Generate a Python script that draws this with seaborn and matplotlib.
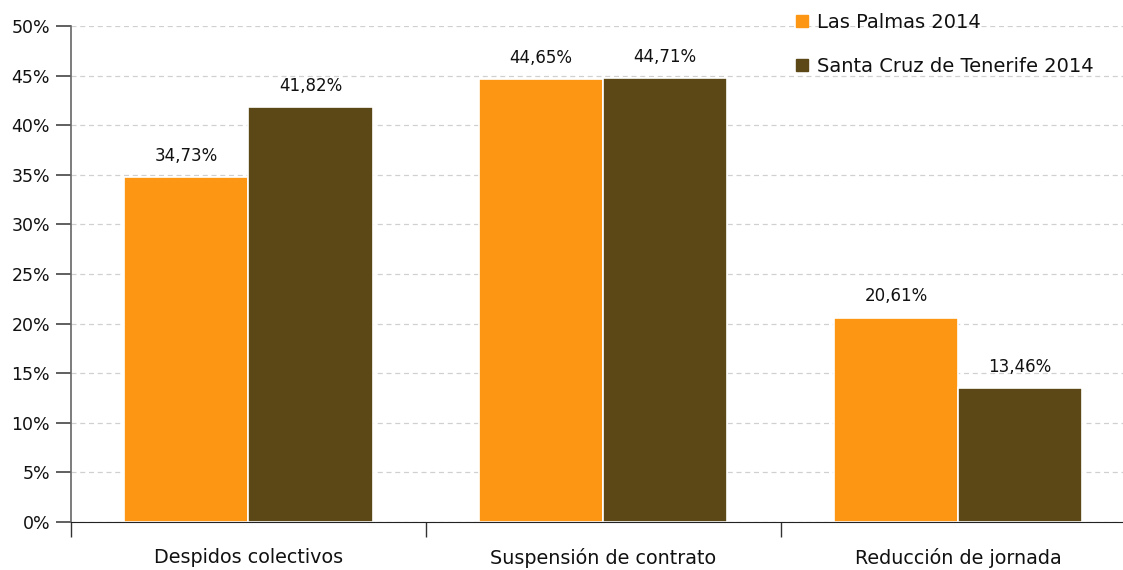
import pandas as pd
import matplotlib.pyplot as plt
import seaborn as sns
from matplotlib.lines import Line2D

# datos
categorias = ['Despidos colectivos', 'Suspensión de contrato', 'Reducción de jornada']
las_palmas = [34.73, 44.65, 20.61]
santa_cruz = [41.82, 44.71, 13.46]
series = ['Las Palmas 2014', 'Santa Cruz de Tenerife 2014']
colores = ['#FD9612', '#5C4717']

df = pd.DataFrame({
    'categoria': categorias * 2,
    'valor': las_palmas + santa_cruz,
    'serie': [series[0]] * 3 + [series[1]] * 3,
})

sns.set_style('white')
plt.rcParams['font.family'] = ['DejaVu Sans']

fig = plt.figure(figsize=(11.23, 5.70), dpi=100)
ax = fig.add_axes([71 / 1123, 1 - 522 / 570, 1 - 71 / 1123, (522 - 26) / 570])

sns.barplot(data=df, x='categoria', y='valor', hue='serie', palette=colores,
            saturation=1, width=0.7, edgecolor='white', linewidth=1.2, ax=ax, legend=False)

# etiquetas de valor
for cont in ax.containers:
    ax.bar_label(cont, labels=[f'{v:.2f}%'.replace('.', ',') for v in cont.datavalues],
                 padding=9, fontsize=12, color='#111111')

ax.set_ylim(0, 50)
ax.set_xlim(-0.5, 2.465)
ax.set_yticks(range(0, 51, 5))
ax.set_yticklabels([f'{v}%' for v in range(0, 51, 5)], fontsize=12.5, color='#111111')
ax.yaxis.grid(True, linestyle=(0, (4, 3)), color='#d0d0d0', linewidth=0.9)
ax.set_axisbelow(True)

# ticks en x en los limites de categoria
ax.set_xticks([-0.5, 0.5, 1.5])
ax.set_xticklabels([])
ax.set_xticks([0, 1, 2], minor=True)
ax.set_xticklabels(categorias, minor=True, fontsize=13.8, color='#111111')
ax.tick_params(axis='x', which='major', bottom=True, direction='out', length=11, width=1, color='#333333')
ax.tick_params(axis='x', which='minor', bottom=True, length=0, pad=19)
ax.tick_params(axis='y', left=True, direction='out', length=11, width=1.2, color='#444444', pad=4)
ax.set_xlabel('')
ax.set_ylabel('')

for s in ['top', 'right']:
    ax.spines[s].set_visible(False)
ax.spines['left'].set_color('#666666')
ax.spines['bottom'].set_color('#222222')
ax.spines['left'].set_linewidth(1.2)

handles = [Line2D([0], [0], marker='s', linestyle='', markersize=8,
                  markerfacecolor=c, markeredgecolor=c) for c in colores]
fig.legend(handles, series, loc='upper left', bbox_to_anchor=(785 / 1123, 1 - 5 / 570),
           frameon=False, fontsize=14, labelspacing=1.3, handletextpad=0.25,
           handlelength=1.0, borderaxespad=0, labelcolor='#111111')

fig.savefig('out.png', dpi=100)
